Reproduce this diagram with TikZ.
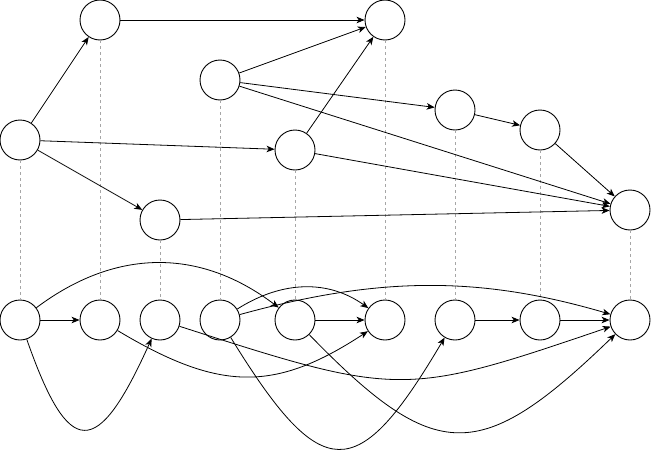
\documentclass[tikz,border=0pt]{standalone}
\usetikzlibrary{arrows.meta}
\begin{document}
\begin{tikzpicture}[x=1pt,y=-1pt,
  vtx/.style={circle,draw,fill=white,minimum size=40pt,inner sep=0pt,line width=0.9pt},
  edge/.style={line width=0.8pt,-{Stealth[length=8pt,width=6.5pt,inset=2.2pt]}},
  guide/.style={draw=black!35,line width=0.6pt,dash pattern=on 3pt off 3pt}]
\useasboundingbox (0,0) rectangle (651,450);
% top graph
\node[vtx] (A) at (20,140) {};
\node[vtx] (B) at (100,20) {};
\node[vtx] (C) at (160,220) {};
\node[vtx] (D) at (220,80) {};
\node[vtx] (E) at (295,150) {};
\node[vtx] (F) at (385,20) {};
\node[vtx] (G) at (455,110) {};
\node[vtx] (H) at (540,130) {};
\node[vtx] (I) at (630,210) {};
% bottom row
\node[vtx] (a) at (20,320) {};
\node[vtx] (b) at (100,320) {};
\node[vtx] (c) at (160,320) {};
\node[vtx] (d) at (220,320) {};
\node[vtx] (e) at (295,320) {};
\node[vtx] (f) at (385,320) {};
\node[vtx] (g) at (455,320) {};
\node[vtx] (h) at (540,320) {};
\node[vtx] (i) at (630,320) {};
% guides
\foreach \u/\l in {A/a,B/b,C/c,D/d,E/e,F/f,G/g,H/h,I/i}
  \draw[guide] (\u.south) -- (\l.north);
% top edges
\draw[edge] (A) -- (B);
\draw[edge] (A) -- (E);
\draw[edge] (A) -- (C);
\draw[edge] (B) -- (F);
\draw[edge] (D) -- (F);
\draw[edge] (D) -- (G);
\draw[edge] (D) -- (I);
\draw[edge] (E) -- (F);
\draw[edge] (E) -- (I);
\draw[edge] (C) -- (I);
\draw[edge] (G) -- (H);
\draw[edge] (H) -- (I);
% bottom edges
\draw[edge] (a) -- (b);
\draw[edge] (e) -- (f);
\draw[edge] (g) -- (h);
\draw[edge] (h) -- (i);
\draw[edge] (a) .. controls (116,248) and (200,248) .. (e);
\draw[edge] (a) .. controls (69,460) and (97,460) .. (c);
\draw[edge] (b) .. controls (220,392) and (275,392) .. (f);
\draw[edge] (c) .. controls (399,397) and (404,397) .. (i);
\draw[edge] (d) .. controls (283,280) and (329,280) .. (f);
\draw[edge] (d) .. controls (380,276) and (480,276) .. (i);
\draw[edge] (d) .. controls (322,486) and (357,486) .. (g);
\draw[edge] (e) .. controls (436,465) and (480,465) .. (i);
\end{tikzpicture}
\end{document}
